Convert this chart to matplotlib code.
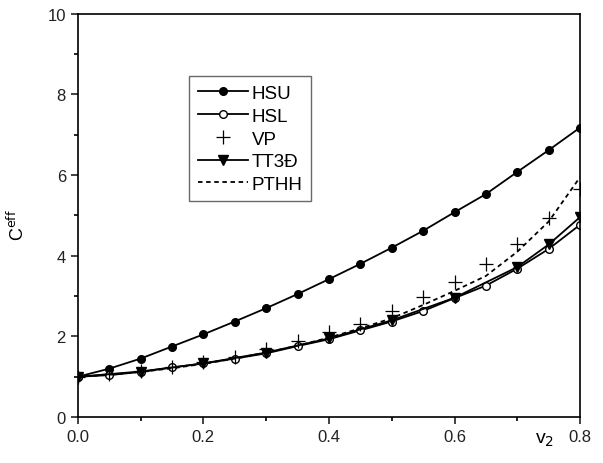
import numpy as np
import matplotlib.pyplot as plt
from matplotlib.ticker import MultipleLocator

plt.rcParams['font.family'] = ['Liberation Sans', 'DejaVu Sans']

# x values (v2) at 0.05 steps
v2 = [0.0, 0.05, 0.1, 0.15, 0.2, 0.25, 0.3, 0.35, 0.4, 0.45, 0.5, 0.55, 0.6, 0.65, 0.7, 0.75, 0.8]

hsu = [1.0, 1.2, 1.45, 1.75, 2.05, 2.37, 2.7, 3.05, 3.42, 3.8, 4.2, 4.62, 5.08, 5.53, 6.08, 6.62, 7.18]
hsl = [1.0, 1.04, 1.12, 1.23, 1.33, 1.45, 1.58, 1.76, 1.93, 2.15, 2.37, 2.63, 2.95, 3.26, 3.68, 4.17, 4.77]
vp = [1.0, 1.06, 1.14, 1.24, 1.36, 1.5, 1.68, 1.88, 2.1, 2.32, 2.63, 2.98, 3.35, 3.8, 4.29, 4.94, 5.66]
pthh = [1.0, 1.05, 1.12, 1.21, 1.32, 1.45, 1.6, 1.77, 1.97, 2.2, 2.45, 2.78, 3.13, 3.5, 4.1, 4.85, 5.95]

# TT3D points at 0.1 steps plus 0.75
v2_tt = [0.0, 0.1, 0.2, 0.3, 0.4, 0.5, 0.6, 0.7, 0.75, 0.8]
tt3d = [1.0, 1.13, 1.33, 1.6, 1.95, 2.4, 2.96, 3.72, 4.28, 4.96]

fig = plt.figure(figsize=(6.03, 4.64), dpi=100)
ax = fig.add_axes([0.129, 0.099, 0.833, 0.869])

ax.plot(v2, hsu, color='black', lw=1.3, marker='o', ms=5.5, label='HSU')
ax.plot(v2, hsl, color='black', lw=1.3, marker='o', ms=5.5, mfc='white', label='HSL')
ax.plot(v2, vp, ls='none', color='black', marker='+', ms=10, mew=0.9, label='VP')
ax.plot(v2_tt, tt3d, color='black', lw=1.3, marker='v', ms=6.5, label='TT3Đ')
ax.plot(v2, pthh, color='black', lw=1.3, ls=(0, (2.5, 2)), label='PTHH')

ax.set_xlim(0, 0.8)
ax.set_ylim(0, 10)
ax.xaxis.set_major_locator(MultipleLocator(0.2))
ax.xaxis.set_minor_locator(MultipleLocator(0.1))
ax.yaxis.set_major_locator(MultipleLocator(2))
ax.yaxis.set_minor_locator(MultipleLocator(1))
ax.xaxis.set_major_formatter(plt.FormatStrFormatter('%.1f'))
ax.tick_params(which='major', direction='out', length=5, width=1.2, labelsize=12, colors='#222222')
ax.tick_params(which='minor', direction='out', length=3, width=1.2)
for s in ax.spines.values():
    s.set_linewidth(1.2)

ax.set_xlabel('v$_2$', fontsize=14)
ax.xaxis.set_label_coords(0.93, -0.035)
ax.set_ylabel('C$^{\\rm eff}$', fontsize=13)
ax.yaxis.set_label_coords(-0.1, 0.48)

leg = ax.legend(loc='upper left', bbox_to_anchor=(0.203, 0.868), fontsize=13.5,
                frameon=True, fancybox=False, edgecolor='#444444',
                handlelength=2.7, handletextpad=0.2, borderpad=0.45, labelspacing=0.3)
leg.get_frame().set_linewidth(1.0)

fig.savefig('out.png', dpi=100)
